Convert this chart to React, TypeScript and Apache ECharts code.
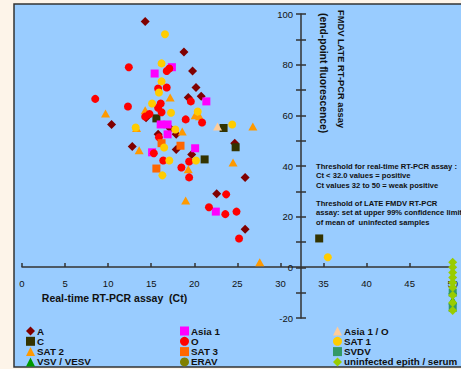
import React, { useEffect, useRef } from "react";
import * as echarts from "echarts";

const xTicks = { min: 0, max: 50, interval: 5 };
const yTicks = { min: -20, max: 100, interval: 20 };

const serA: number[][] = [[14.3,97],[18.8,85],[19.8,77.5],[20.2,71],[19.3,67],[20.8,67.5],[10.4,56.4],[14.4,59],[12.8,47.7],[15.8,52.5],[17.9,52.5],[17.2,54.8],[17.9,46.5],[19.7,44.5],[24.7,49],[25.9,35.5],[22.6,29],[25.9,15]];
const serC: number[][] = [[15.6,58.8],[23.4,55],[24.8,47.4],[21.2,42.6],[34.5,11.4]];
const serSAT2: number[][] = [[9.7,60.7],[14.3,62],[13.3,55],[17.2,67],[20.1,60],[20.6,59.6],[18.6,53.6],[26.8,55.6],[13.6,46.2],[19.3,38.7],[19,26.4],[24.5,41.4],[27.6,2]];
const serVSV: number[][] = [[50,-9],[50,-13]];
const serAsia1: number[][] = [[15.4,76.5],[17.4,79],[21.4,65.5],[16.1,56.4],[16.9,56.4],[16.9,52.5],[15.1,45.4],[20.1,47],[22.5,22]];
const serO: number[][] = [[12.4,79],[8.5,66.5],[12.3,63.5],[14.3,59.5],[14.8,60.5],[15.8,70.6],[16.8,77.5],[17.1,78.5],[16.8,71],[16.1,64.7],[15.8,63],[16.2,61.2],[19.6,65.5],[19,58.4],[20.9,57.2],[15.9,51.3],[15.3,45],[16.4,42.2],[18.5,39.4],[19.4,41.8],[19.4,35.5],[23.7,28.8],[21.7,23.7],[23.6,21],[24.9,22],[25.2,11.4]];
const serSAT3: number[][] = [[16.2,49],[18.4,48],[15.6,39]];
const serERAV: number[][] = [];
const serAsia1O: number[][] = [[22.7,55.6]];
const serSAT1: number[][] = [[16.6,92],[16.2,80.5],[16.2,73.4],[15.9,69],[15.1,64.7],[17.3,61],[20.4,61.5],[24.4,56.4],[17.8,54.4],[13.2,55.2],[16.5,47.3],[17.1,42.2],[20.2,42.2],[16.3,36.3],[35.5,4]];
const serSVDV: number[][] = [[50,-10],[50,-16]];
const serUninf: number[][] = [[50,2],[50,0],[50,-2],[50,-4],[50,-6],[50,-8],[50,-11],[50,-14],[50,-17]];

const annotLines = [
  "Threshold for real-time RT-PCR assay :",
  "Ct < 32.0 values = positive",
  "Ct values 32 to 50 = weak positive",
  "Threshold of LATE FMDV RT-PCR",
  "assay: set at upper 99% confidence limit",
  "of mean of  uninfected samples",
];
const annotY = [166, 175.5, 185, 203, 212.5, 222];

const FONT = "'Liberation Sans', Arial, sans-serif";

export default function App() {
  const ref = useRef<HTMLDivElement>(null);
  useEffect(() => {
    if (!ref.current) return;
    const chart = echarts.init(ref.current, undefined, { renderer: "svg" });
    const mk = (name: string, data: number[][], symbol: string, size: any, color: string) => ({
      name, type: "scatter", data, symbol, symbolSize: size,
      itemStyle: { color, opacity: 1 }, z: 3,
    });
    const axisLineStyle = { color: "#333", width: 1.5 };
    const legendCommon = {
      orient: "vertical", top: 326, padding: 0, itemGap: 0.3, itemWidth: 9, itemHeight: 9,
      selectedMode: false,
      textStyle: { fontFamily: FONT, fontSize: 9.8, fontWeight: "bold", color: "#111", lineHeight: 10, padding: [0, 0, 0, -3] },
    };
    chart.setOption({
      animation: false,
      backgroundColor: "#fdf4e9",
      grid: { left: 22, right: 3, top: 14, bottom: 51 },
      xAxis: {
        type: "value", min: xTicks.min, max: xTicks.max, interval: xTicks.interval,
        position: "bottom", offset: -51,
        axisLine: { onZero: false, lineStyle: axisLineStyle },
        axisTick: { inside: true, length: 4, lineStyle: axisLineStyle },
        axisLabel: { margin: 11, fontFamily: FONT, fontSize: 9.5, color: "#111" },
        splitLine: { show: false },
      },
      yAxis: [
        {
          type: "value", min: yTicks.min, max: yTicks.max, interval: yTicks.interval,
          position: "left", offset: -279,
          axisLine: { show: true, onZero: false, lineStyle: axisLineStyle },
          axisTick: { show: true, length: 5, lineStyle: axisLineStyle },
          minorTick: { show: true, splitNumber: 2, length: 5, lineStyle: axisLineStyle },
          axisLabel: { margin: 8, fontFamily: FONT, fontSize: 9.5, color: "#111" },
          splitLine: { show: false },
        },
        {
          type: "value", min: yTicks.min, max: yTicks.max, interval: yTicks.interval,
          position: "left", offset: -279,
          axisLine: { show: false, onZero: false },
          axisTick: { show: true, inside: true, length: 5, lineStyle: axisLineStyle },
          minorTick: { show: true, splitNumber: 2, length: 5, lineStyle: axisLineStyle },
          axisLabel: { show: false },
          splitLine: { show: false },
        },
      ],
      legend: [
        { ...legendCommon, left: 26, data: ["A", "C", "SAT 2", "VSV / VESV"] },
        { ...legendCommon, left: 180, data: ["Asia 1", "O", "SAT 3", "ERAV"] },
        { ...legendCommon, left: 333, data: ["Asia 1 / O", "SAT 1", "SVDV", "uninfected epith / serum"] },
      ],
      graphic: [
        {
          type: "rect", z: -10, silent: true,
          shape: { x: 14, y: 4, width: 460, height: 363 },
          style: { fill: "#99ccff", stroke: "#333", lineWidth: 1.5 },
        },
        {
          type: "text", x: 114.5, y: 298, z: 5,
          style: { text: "Real-time RT-PCR assay  (Ct)", font: `bold 10.5px ${FONT}`, fill: "#111", align: "center", verticalAlign: "middle" },
        },
        {
          type: "text", x: 341, y: 10, rotation: -Math.PI / 2, z: 5,
          style: { text: "FMDV LATE RT-PCR assay", font: `bold 9.3px ${FONT}`, fill: "#111", align: "left", verticalAlign: "middle" },
        },
        {
          type: "text", x: 323, y: 13, rotation: -Math.PI / 2, z: 5,
          style: { text: "(end-point fluorescence)", font: `bold 10.3px ${FONT}`, fill: "#111", align: "left", verticalAlign: "middle" },
        },
        ...annotLines.map((t, i) => ({
          type: "text", x: 316, y: annotY[i], z: 5,
          style: { text: t, font: `bold 7.6px ${FONT}`, fill: "#111", align: "left", verticalAlign: "middle" },
        })),
      ],
      series: [
        mk("A", serA, "diamond", [9, 9], "#800000"),
        mk("C", serC, "rect", 8, "#333300"),
        mk("SAT 2", serSAT2, "triangle", [9, 8], "#ff9900"),
        mk("VSV / VESV", serVSV, "triangle", [9, 8], "#009900"),
        mk("Asia 1", serAsia1, "rect", 8, "#ff00ff"),
        mk("O", serO, "circle", 8, "#ff0000"),
        mk("SAT 3", serSAT3, "rect", 8, "#ff6600"),
        mk("ERAV", serERAV, "circle", 8, "#808000"),
        mk("Asia 1 / O", serAsia1O, "triangle", [9, 8], "#ffcc99"),
        mk("SAT 1", serSAT1, "circle", 8, "#ffcc00"),
        mk("SVDV", serSVDV, "rect", 8, "#339966"),
        mk("uninfected epith / serum", serUninf, "diamond", [9, 9], "#99cc00"),
      ],
    });
    return () => chart.dispose();
  }, []);
  return (
    <div
      ref={ref}
      style={{ position: "fixed", left: 0, top: 0, width: 461, height: 369 }}
    />
  );
}
